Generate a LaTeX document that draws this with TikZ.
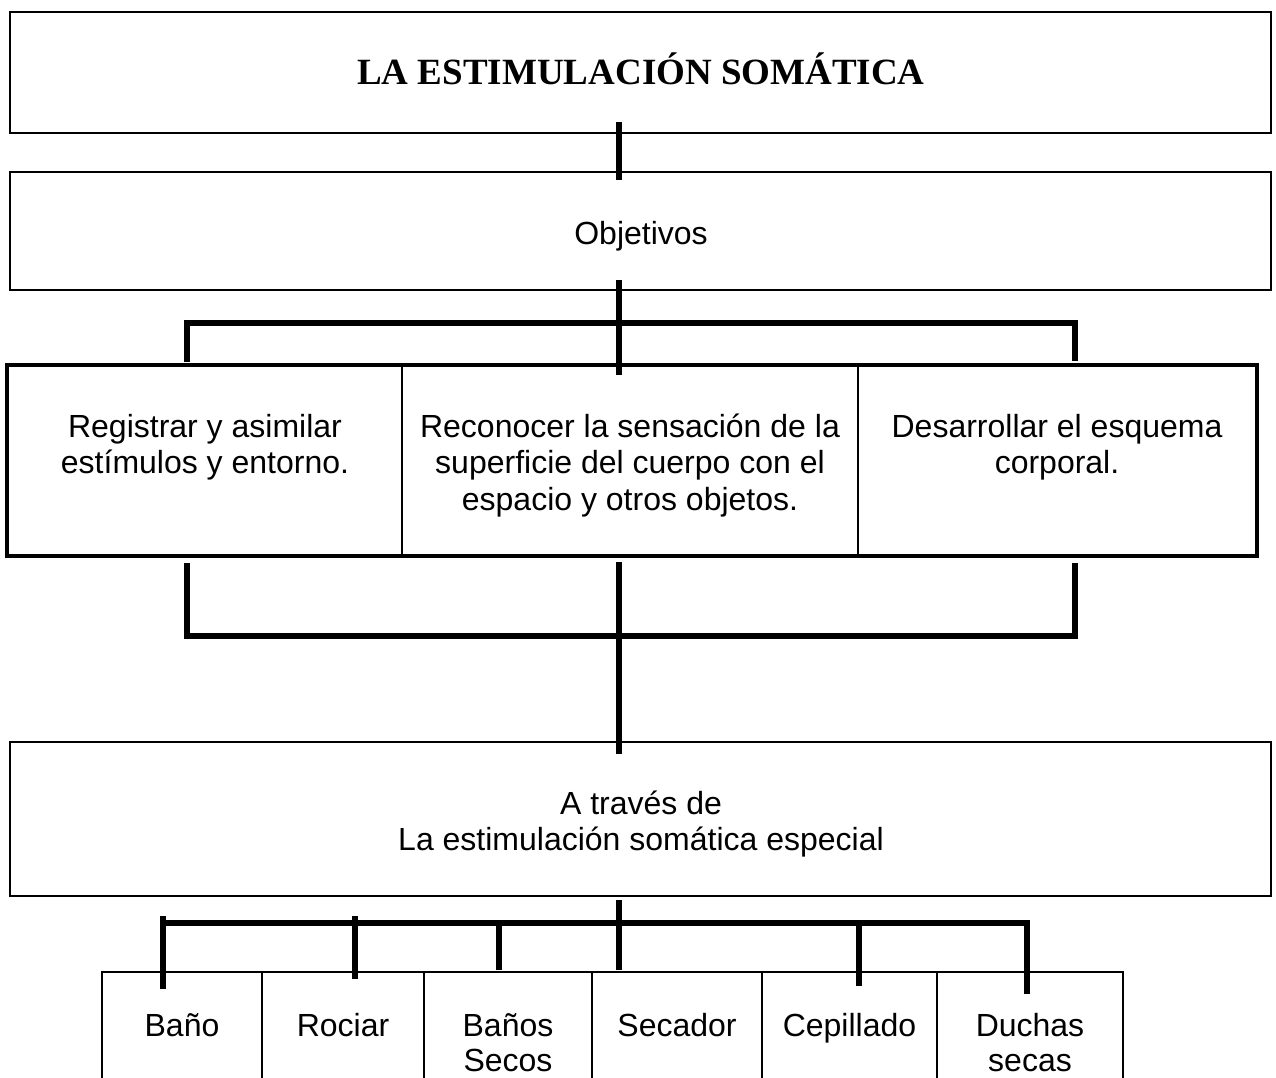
\documentclass[tikz,border=0pt]{standalone}
\usepackage{fontspec}
\setmainfont{Liberation Sans}
\newfontfamily\titlefont{Liberation Serif}
\begin{document}
\begin{tikzpicture}[x=1pt,y=-1pt,
  box/.style={draw, line width=2pt, inner sep=0pt},
  conn/.style={line width=6pt},
  lbl/.style={anchor=base, inner sep=0pt, align=center, font=\fontsize{32}{36.5}\selectfont}]
\useasboundingbox (0,0) rectangle (1276,1077);
\clip (0,0) rectangle (1276,1077);
% main boxes
\node[box, minimum width=1261pt, minimum height=121pt] (title) at (640.5,72.5) {};
\node[anchor=base, inner sep=0pt, font=\titlefont\bfseries\fontsize{37}{40}\selectfont] (titletext) at (641,84) {LA ESTIMULACIÓN SOMÁTICA};
\node[box, minimum width=1261pt, minimum height=118pt] (obj) at (640.5,231) {};
\node[lbl] (objtext) at (641,244) {Objetivos};
% three objectives
\node[box, minimum width=394pt, minimum height=189pt] (c1) at (205,460.5) {};
\node[box, minimum width=456pt, minimum height=189pt] (c2) at (630,460.5) {};
\node[box, minimum width=398pt, minimum height=189pt] (c3) at (1057,460.5) {};
\draw[line width=4pt] (c1.north west) rectangle (c3.south east);
\node[lbl] (t1) at (205,473.5) {Registrar y asimilar\\estímulos y entorno.};
\node[lbl] (t2) at (630,510) {Reconocer la sensación de la\\superficie del cuerpo con el\\espacio y otros objetos.};
\node[lbl] (t3) at (1057,473.5) {Desarrollar el esquema\\corporal.};
% a traves de
\node[box, minimum width=1261pt, minimum height=154pt] (atr) at (640.5,819) {};
\node[lbl] (atrtext) at (641,850.5) {A través de\\La estimulación somática especial};
% bottom cells
\node[box, minimum width=160pt, minimum height=140pt] (d1) at (182,1042) {};
\node[box, minimum width=162pt, minimum height=140pt] (d2) at (343,1042) {};
\node[box, minimum width=168pt, minimum height=140pt] (d3) at (508,1042) {};
\node[box, minimum width=170pt, minimum height=140pt] (d4) at (677,1042) {};
\node[box, minimum width=175pt, minimum height=140pt] (d5) at (849.5,1042) {};
\node[box, minimum width=186pt, minimum height=140pt] (d6) at (1030,1042) {};
\node[lbl] (e1) at (182,1036) {Baño};
\node[lbl] (e2) at (343,1036) {Rociar};
\node[lbl, font=\fontsize{32}{35.5}\selectfont] (e3) at (508,1071.5) {Baños\\Secos};
\node[lbl] (e4) at (677,1036) {Secador};
\node[lbl] (e5) at (849.5,1036) {Cepillado};
\node[lbl, font=\fontsize{32}{35.5}\selectfont] (e6) at (1030,1071.5) {Duchas\\secas};
% connectors
\coordinate (k1) at (619,122); \coordinate (k2) at (619,180);
\draw[conn] (k1) -- (k2);
\coordinate (k3) at (619,280); \coordinate (k4) at (619,375);
\draw[conn] (k3) -- (k4);
\coordinate (la) at (187,362); \coordinate (lb) at (187,323);
\coordinate (ra) at (1075,361); \coordinate (rb) at (1075,323);
\draw[conn] (la) -- (lb) -- (rb) -- (ra);
\coordinate (lc) at (187,563); \coordinate (ld) at (187,635.5);
\coordinate (rc) at (1075,563); \coordinate (rd) at (1075,635.5);
\draw[conn] (lc) -- (ld) -- (rd) -- (rc);
\coordinate (k5) at (619,562); \coordinate (k6) at (619,754);
\draw[conn] (k5) -- (k6);
\coordinate (k7) at (619,900); \coordinate (k8) at (619,970);
\draw[conn] (k7) -- (k8);
\coordinate (bl) at (163,923); \coordinate (br) at (1027,923);
\draw[conn] (bl) -- (br);
\coordinate (g1a) at (163,916); \coordinate (g1b) at (163,989);
\coordinate (g2a) at (355,916); \coordinate (g2b) at (355,979);
\coordinate (g3a) at (499,923); \coordinate (g3b) at (499,970);
\coordinate (g5a) at (859,923); \coordinate (g5b) at (859,986);
\coordinate (g6a) at (1027,920); \coordinate (g6b) at (1027,994);
\draw[conn] (g1a) -- (g1b);
\draw[conn] (g2a) -- (g2b);
\draw[conn] (g3a) -- (g3b);
\draw[conn] (g5a) -- (g5b);
\draw[conn] (g6a) -- (g6b);
\end{tikzpicture}
\end{document}
